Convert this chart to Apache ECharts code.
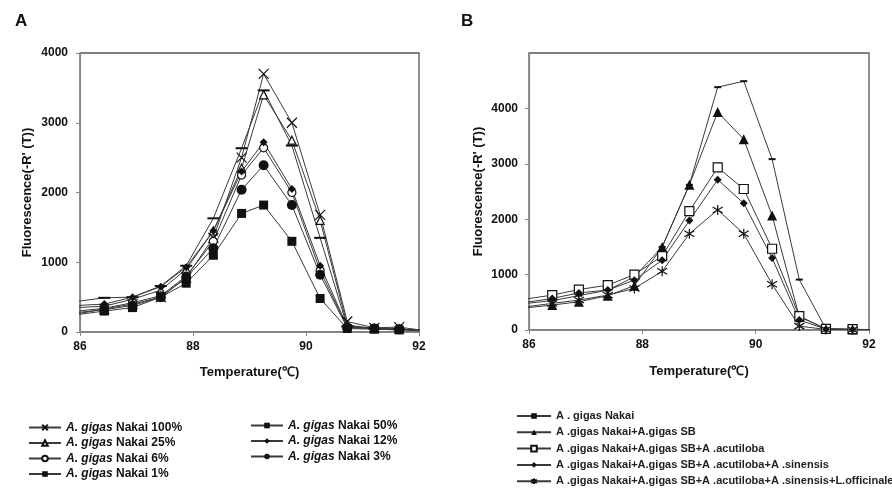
<!DOCTYPE html>
<html><head><meta charset="utf-8">
<script src="https://cdn.jsdelivr.net/npm/echarts@6/dist/echarts.min.js"></script>
<style>html,body{margin:0;padding:0;background:#fff}#c{width:892px;height:488px}</style>
</head><body><div id="c"></div>
<script>
// Panel A temperatures
const tempA = [85.95, 86.43, 86.93, 87.43, 87.88, 88.36, 88.86, 89.25, 89.75, 90.25, 90.73, 91.21, 91.65, 92.1];
const a100 = [260, 330, 400, 500, 780, 1350, 2500, 3700, 3000, 1680, 150, 60, 70, 20];
const a50  = [440, 490, 500, 660, 950, 1630, 2635, 3464, 2673, 1350, 80, 50, 40, 20];
const a25  = [350, 370, 470, 600, 900, 1450, 2350, 3400, 2750, 1600, 100, 50, 40, 20];
const a12  = [380, 400, 500, 650, 930, 1450, 2300, 2720, 2050, 950, 80, 50, 40, 20];
const a6   = [300, 340, 420, 520, 800, 1300, 2250, 2640, 2000, 880, 70, 50, 40, 20];
const a3   = [280, 320, 380, 500, 780, 1200, 2040, 2390, 1820, 820, 60, 50, 40, 20];
const a1   = [250, 300, 350, 500, 700, 1100, 1700, 1820, 1300, 480, 50, 40, 30, 15];
// Panel B temperatures
const tempB = [85.95, 86.41, 86.88, 87.39, 87.86, 88.35, 88.83, 89.33, 89.79, 90.29, 90.77, 91.24, 91.71, 92.1];
const bNakai = [480, 530, 620, 720, 960, 1500, 2620, 4383, 4491, 3084, 910, 20, 10, 5];
const bSB    = [400, 450, 510, 620, 800, 1500, 2620, 3934, 3443, 2066, 240, 20, 10, 5];
const bAcu   = [560, 630, 730, 810, 1000, 1335, 2144, 2934, 2545, 1467, 250, 20, 15, 5];
const bSin   = [500, 570, 670, 720, 900, 1260, 1976, 2713, 2287, 1300, 180, 15, 10, 5];
const bOff   = [420, 480, 540, 630, 750, 1060, 1737, 2168, 1737, 826, 70, 10, 5, 5];

const namesA = ['A. gigas Nakai 100%', 'A. gigas Nakai 25%', 'A. gigas Nakai 6%', 'A. gigas Nakai 1%',
                'A. gigas Nakai 50%', 'A. gigas Nakai 12%', 'A. gigas Nakai 3%'];
const namesB = ['A . gigas Nakai', 'A .gigas Nakai+A.gigas SB', 'A .gigas Nakai+A.gigas SB+A .acutiloba',
                'A .gigas Nakai+A.gigas SB+A .acutiloba+A .sinensis',
                'A .gigas Nakai+A.gigas SB+A .acutiloba+A .sinensis+L.officinale'];

const FONT = 'Liberation Sans';
const LC = '#3a3a3a';
const crossPath = 'path://M0,0L10,10M10,0L0,10';
const starPath = 'path://M5,0L5,10M0,2L10,8M0,8L10,2';

function pairs(xs, ys){ return xs.map((x,i)=>[x, ys[i]]); }
function mk(name, xs, ys, idx, symbol, size, filled, stroke){
  return {
    name, type:'line', xAxisIndex: idx, yAxisIndex: idx, data: pairs(xs, ys),
    symbol, symbolSize: size, showAllSymbol: true,
    lineStyle:{color: LC, width: 1},
    itemStyle: stroke ? {color:'rgba(0,0,0,0)', borderColor:'#111', borderWidth:1.2}
             : (filled ? {color:'#111', borderColor:'#111', borderWidth:0}
                       : {color:'#fff', borderColor:'#111', borderWidth:1.2}),
    emphasis:{disabled:true}, animation:false, z: 3
  };
}

const series = [
  mk(namesA[0], tempA, a100, 0, crossPath, 10, false, true),
  mk(namesA[1], tempA, a25, 0, 'triangle', 8, false),
  mk(namesA[2], tempA, a6, 0, 'circle', 8, false),
  mk(namesA[3], tempA, a1, 0, 'rect', 9, true),
  mk(namesA[4], tempA, a50, 0, 'rect', [12, 2], true),
  mk(namesA[5], tempA, a12, 0, 'diamond', 8, true),
  mk(namesA[6], tempA, a3, 0, 'circle', 10, true),
  mk(namesB[0], tempB, bNakai, 1, 'rect', [7, 2], true),
  mk(namesB[1], tempB, bSB, 1, 'triangle', 10, true),
  mk(namesB[2], tempB, bAcu, 1, 'rect', 9, false),
  mk(namesB[3], tempB, bSin, 1, 'diamond', 8, true),
  mk(namesB[4], tempB, bOff, 1, starPath, 10, false, true)
];

const axisCommon = {
  axisLine:{show:true, onZero:false, lineStyle:{color:'#888', width:1.2}},
  axisTick:{show:true, inside:false, length:4, lineStyle:{color:'#888'}},
  splitLine:{show:false},
  axisLabel:{color:'#111', fontFamily:FONT, fontWeight:'bold', fontSize:12, formatter: v => String(v)},
  nameTextStyle:{color:'#111', fontFamily:FONT, fontWeight:'bold', fontSize:13}
};

const xAxes = [0,1].map(i => Object.assign({}, axisCommon, {
  type:'value', gridIndex:i, min:86, max:92, interval:2,
  name:'Temperature(℃)', nameLocation:'middle', nameGap: i === 0 ? 34 : 35,
  axisLabel:Object.assign({}, axisCommon.axisLabel, {margin:9})
}));
const yAxes = [
  Object.assign({}, axisCommon, {type:'value', gridIndex:0, min:0, max:4000, interval:1000,
    name:"Fluorescence(-R' (T))", nameLocation:'middle', nameGap:46,
    axisLabel:Object.assign({}, axisCommon.axisLabel, {margin:12})}),
  Object.assign({}, axisCommon, {type:'value', gridIndex:1, min:0, max:5000, interval:1000,
    name:"Fluorescence(-R' (T))", nameLocation:'middle', nameGap:44,
    axisLabel:Object.assign({}, axisCommon.axisLabel, {margin:11, showMaxLabel:false})})
];

function legendA(data, left, top){
  return {
    data, left, top, height:120, orient:'vertical', itemWidth:32, itemHeight:7, itemGap:2.5,
    selectedMode:false,
    formatter: n => '{i|A. gigas} {b|' + n.replace('A. gigas ', '') + '}',
    textStyle:{fontFamily:FONT, fontSize:12, color:'#111', lineHeight:13,
      rich:{i:{fontStyle:'italic', fontWeight:'bold', fontFamily:FONT, fontSize:12, color:'#111'},
            b:{fontWeight:'bold', fontFamily:FONT, fontSize:12, color:'#111'}}}
  };
}

const option = {
  backgroundColor:'#fff',
  animation:false,
  title:[
    {text:'A', left:10, top:8, textStyle:{fontFamily:FONT, fontWeight:'bold', fontSize:17, color:'#111'}},
    {text:'B', left:456, top:8, textStyle:{fontFamily:FONT, fontWeight:'bold', fontSize:17, color:'#111'}}
  ],
  grid:[
    {left:80, right:473, top:53, bottom:156, show:true, borderColor:'#555', borderWidth:1.3, backgroundColor:'#fff'},
    {left:529, right:23, top:53, bottom:158, show:true, borderColor:'#555', borderWidth:1.3, backgroundColor:'#fff'}
  ],
  xAxis: xAxes,
  yAxis: yAxes,
  legend:[
    legendA(namesA.slice(0,4), 23, 416),
    legendA(namesA.slice(4), 245, 414),
    {data:namesB, left:511, top:405, height:120, width:420, orient:'vertical', itemWidth:34, itemHeight:7, itemGap:4.3,
     selectedMode:false,
     textStyle:{fontFamily:FONT, fontSize:11, fontWeight:'bold', color:'#222', lineHeight:12}}
  ],
  series
};
const chart = echarts.init(document.getElementById('c'), null, {renderer:'canvas'});
chart.setOption(option);
</script></body></html>
